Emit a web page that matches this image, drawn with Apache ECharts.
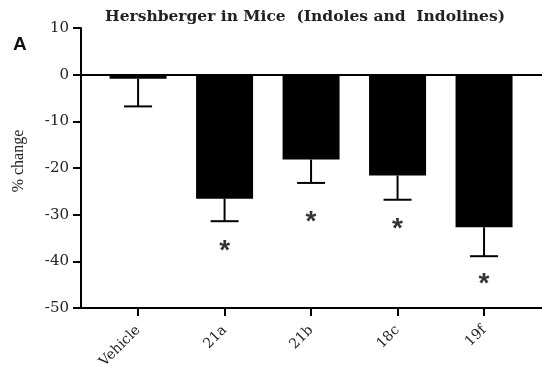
<!DOCTYPE html>
<html><head><meta charset="utf-8">
<script src="https://cdn.jsdelivr.net/npm/echarts@6/dist/echarts.min.js"></script>
<style>html,body{margin:0;padding:0;background:#fff}#c{width:542px;height:377px}</style>
</head><body><div id="c"></div>
<script>
var categories = ['Vehicle', '21a', '21b', '18c', '19f'];
var means = [-0.9, -26.6, -18.2, -21.6, -32.7];
var errLow = [-6.8, -31.4, -23.2, -26.8, -38.9];
var starY = [null, -36.1, -30.0, -31.5, -43.3];
var yTicks = [-50, -40, -30, -20, -10, 0, 10];

var idx = categories.map(function (c, i) { return i; });
var barData = means.map(function (v, i) { return [i, v]; });
var errData = means.map(function (v, i) { return [i, v, errLow[i]]; });
var starData = [];
starY.forEach(function (v, i) { if (v !== null) starData.push([i, v]); });

var serif = '"DejaVu Serif", "Liberation Serif", serif';
var chart = echarts.init(document.getElementById('c'), null, {renderer: 'canvas'});
chart.setOption({
  animation: false,
  backgroundColor: '#fff',
  title: [
    {text: 'Hershberger in Mice  (Indoles and  Indolines)', left: 300, top: 4, textAlign: 'center',
     textStyle: {fontFamily: serif, fontWeight: 'bold', fontSize: 15.5, color: '#222'}},
    {text: 'A', left: 8, top: 30, textStyle: {fontFamily: '"Liberation Sans", Arial, sans-serif', fontWeight: 'bold', fontSize: 19, color: '#111'}}
  ],
  grid: {left: 81, right: 0, top: 28, bottom: 69},
  xAxis: {
    type: 'value', min: -0.66, max: 4.67,
    splitLine: {show: false},
    axisLine: {show: true, onZero: false, lineStyle: {color: '#000', width: 2}},
    axisTick: {show: true, customValues: idx, length: 8, lineStyle: {color: '#000', width: 2}},
    axisLabel: {customValues: idx, rotate: 45, margin: 20, fontFamily: serif, fontSize: 14, color: '#222',
      formatter: function (v) { return categories[Math.round(v)]; }}
  },
  yAxis: {
    type: 'value', min: -50, max: 10, interval: 10,
    name: '% change', nameLocation: 'middle', nameGap: 54,
    nameTextStyle: {fontFamily: '"Liberation Serif", serif', fontSize: 16, color: '#222', padding: [0, 0, 0, 14]},
    splitLine: {show: false},
    axisLine: {show: true, onZero: false, lineStyle: {color: '#000', width: 2}},
    axisTick: {show: true, length: 8, lineStyle: {color: '#000', width: 2}},
    axisLabel: {fontFamily: serif, fontSize: 15, color: '#222', margin: 12,
      customValues: yTicks}
  },
  series: [
    {type: 'bar', data: barData, barWidth: 57, itemStyle: {color: '#000'},
     markLine: {silent: true, symbol: 'none', label: {show: false},
       lineStyle: {color: '#000', width: 2, type: 'solid'}, data: [{yAxis: 0}]}},
    {type: 'custom', data: errData, z: 3,
     renderItem: function (params, api) {
       var top = api.coord([api.value(0), api.value(1)]);
       var bot = api.coord([api.value(0), api.value(2)]);
       var hw = 14;
       return {type: 'group', children: [
         {type: 'line', shape: {x1: top[0], y1: top[1], x2: bot[0], y2: bot[1]}, style: {stroke: '#000', lineWidth: 2}},
         {type: 'line', shape: {x1: bot[0] - hw, y1: bot[1], x2: bot[0] + hw, y2: bot[1]}, style: {stroke: '#000', lineWidth: 2}}
       ]};
     }},
    {type: 'scatter', data: starData, symbolSize: 1, itemStyle: {color: 'rgba(0,0,0,0)'},
     label: {show: true, position: 'inside', formatter: '*', fontFamily: '"Liberation Sans", Arial, sans-serif',
       fontSize: 28, fontWeight: 'bold', color: '#000', offset: [0, 8]}}
  ]
});
</script></body></html>
